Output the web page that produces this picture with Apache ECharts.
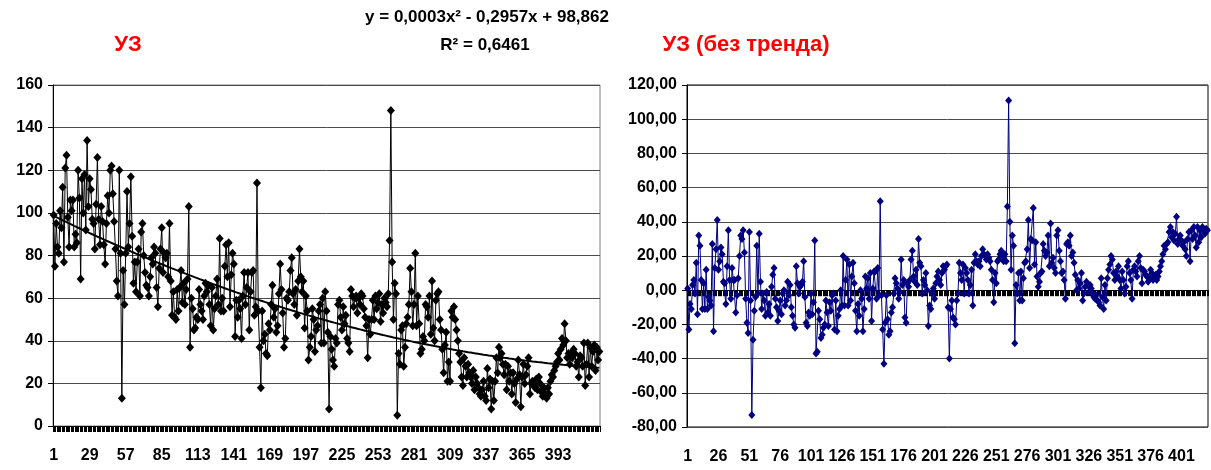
<!DOCTYPE html>
<html><head><meta charset="utf-8">
<script src="https://cdn.jsdelivr.net/npm/echarts@6/dist/echarts.min.js"></script>
<style>html,body{margin:0;padding:0;background:#fff}#c{width:1211px;height:470px}</style>
</head><body><div id="c"></div>
<script>
// ---- data ----
const rawValues = [
 99,75,95,84,81,101,93,112,77,121,
 127,98,84,106,101,106,84,90,86,120,
 107,69,116,100,118,92,134,103,116,111,
 97,95,83,104,126,97,85,103,96,85,
 76,95,108,100,120,122,109,96,83,68,
 61,120,81,13,73,57,81,110,84,95,
 117,89,67,77,63,77,83,61,91,95,
 80,72,66,65,61,70,79,76,84,81,
 65,56,74,83,93,72,81,79,81,70,
 95,68,52,63,51,50,64,54,65,73,
 58,67,57,64,69,103,37,60,55,45,
 46,51,50,64,57,54,50,61,67,63,
 66,57,47,65,45,55,61,69,57,88,
 54,60,54,75,85,70,86,56,71,81,
 76,42,59,51,59,55,41,61,72,57,
 65,72,45,63,72,73,52,56,114,54,
 37,18,54,40,43,34,33,48,45,57,
 66,51,55,44,47,62,76,64,53,37,
 41,60,59,63,73,79,62,57,64,52,
 68,83,70,63,68,46,61,54,31,37,
 42,55,50,35,45,47,54,57,39,60,
 39,63,54,44,8,42,36,31,28,41,
 39,57,59,51,45,56,48,52,41,39,
 35,64,61,56,60,61,53,60,57,62,
 61,55,51,47,32,50,43,50,59,50,
 61,55,58,62,49,57,53,60,58,56,
 62,87,148,77,50,67,62,5,34,29,
 45,47,28,37,48,51,57,74,63,47,
 57,81,47,61,48,34,36,42,40,57,
 56,51,61,43,68,46,40,59,62,63,
 50,45,36,25,38,44,21,30,21,54,
 51,56,50,45,40,34,30,23,19,32,
 28,23,29,25,23,20,26,17,23,20,
 18,15,14,17,21,14,12,27,18,22,
 8,21,12,21,32,25,37,32,34,29,
 24,29,17,28,21,25,15,25,20,11,
 22,31,24,9,23,29,20,24,28,32,
 15,20,21,19,18,22,17,23,20,16,
 14,18,15,13,18,15,21,24,23,26,
 28,30,34,31,36,41,38,48,40,32,
 34,29,34,32,36,34,28,30,23,33,
 32,28,39,19,29,39,23,37,28,35,
 38,26,37,31,35
];
const detrendedValues = [
 1,-23,-8,-11,3,6,-2,16,-14,32,
 26,6,-11,4,-11,12,-11,-4,-6,-9,
 27,-24,13,24,41,12,17,25,21,5,
 4,-8,14,35,6,-5,13,6,6,-13,
 -3,7,20,32,30,35,22,-5,-19,-25,
 34,-6,-73,-29,-12,-4,26,-2,33,5,
 -11,-2,-6,-15,-1,-13,-8,-15,2,9,
 13,-5,-10,-18,-12,-6,-14,-2,0,-9,
 -6,5,-3,3,-10,-15,-20,-22,14,4,
 -2,2,3,5,17,-4,-19,-21,-13,-15,
 -2,-14,-7,29,-37,-36,-12,-17,-28,-26,
 -22,-20,-6,-13,-21,-7,-12,-3,-2,-23,
 -6,-24,-15,-11,0,-9,20,-9,6,18,
 -9,15,-6,8,16,4,-12,-24,-8,-15,
 0,-5,-24,-11,8,1,7,-5,10,-18,
 1,11,11,-5,13,-3,52,-3,-23,-43,
 -19,-3,-17,-26,-24,-13,-10,-2,7,4,
 1,-5,-1,18,3,6,-16,-19,4,2,
 6,18,23,8,5,12,3,30,16,14,
 -2,6,3,10,0,-21,-9,-11,-2,1,
 -5,4,8,11,6,3,10,14,12,14,
 15,-10,-40,-11,-6,-16,-17,-20,-6,-2,
 16,10,6,15,-2,13,10,6,-2,3,
 12,-9,16,21,17,15,17,14,20,24,
 21,20,18,21,19,17,12,6,-7,10,
 4,17,18,21,23,20,17,21,17,49,
 111,40,12,32,26,-31,3,-2,10,-6,
 11,-6,7,16,17,24,41,13,30,29,
 48,15,28,8,2,5,10,11,27,23,
 20,22,32,14,39,16,19,13,10,32,
 35,23,17,10,11,6,-5,27,28,26,
 32,20,22,16,9,0,6,1,4,10,
 -6,-2,2,5,3,-1,3,1,-2,-4,
 -5,-3,-6,-7,-9,7,-4,-11,3,-6,
 7,12,15,20,18,10,6,11,8,14,
 6,1,11,6,-2,2,14,17,10,6,
 -5,12,14,11,8,17,20,13,4,12,
 11,9,8,5,8,12,10,6,7,9,
 6,8,11,14,17,21,26,24,27,28,
 34,37,31,34,29,33,43,27,30,32,
 29,26,28,24,20,30,34,17,35,30,
 37,32,25,37,28,35,31,37,35,33,
 36,35
];
// trend equation shown on the chart: y = a*x^2 + b*x + c
const trendCoefficients = [0.0003, -0.2957, 98.862];
const leftCategories = rawValues.map((_, i) => String(i + 1));
const rightCategories = detrendedValues.map((_, i) => String(i + 1));
const leftLabelStep = 28, leftLabelLast = 393;
const rightLabelStep = 25, rightLabelLast = 401;
const titles = {
  left: 'УЗ',
  right: 'УЗ (без тренда)',
  equation: 'y = 0,0003x² - 0,2957x + 98,862',
  r2: 'R² = 0,6461'
};

// ---- chart ----
const trendValues = leftCategories.map((c) => {
  const x = Number(c);
  return trendCoefficients[0] * x * x + trendCoefficients[1] * x + trendCoefficients[2];
});
const FONT = '"Liberation Sans", Arial, sans-serif';
const lbl = { fontFamily: FONT, fontWeight: 'bold', fontSize: 16, color: '#000' };
const chart = echarts.init(document.getElementById('c'), null, { renderer: 'canvas' });
chart.setOption({
  animation: false,
  backgroundColor: '#fff',
  title: [
    { text: titles.left, left: 128, top: 34, textAlign: 'center', padding: 0,
      textStyle: { fontFamily: FONT, fontWeight: 'bold', fontSize: 22, color: '#ff0000' } },
    { text: titles.equation, left: 487, top: 9, textAlign: 'center', padding: 0,
      textStyle: { fontFamily: FONT, fontWeight: 'bold', fontSize: 17, color: '#000' } },
    { text: titles.r2, left: 485, top: 37, textAlign: 'center', padding: 0,
      textStyle: { fontFamily: FONT, fontWeight: 'bold', fontSize: 17, color: '#000' } },
    { text: titles.right, left: 746, top: 34, textAlign: 'center', padding: 0,
      textStyle: { fontFamily: FONT, fontWeight: 'bold', fontSize: 22, color: '#ff0000' } }
  ],
  grid: [
    { left: 53, top: 85, width: 547, height: 341, show: true, borderColor: '#808080', borderWidth: 1, backgroundColor: 'transparent' },
    { left: 687, top: 85, width: 521, height: 342, show: true, borderColor: '#000', borderWidth: 1, backgroundColor: 'transparent' },
    { left: 687, top: 85, width: 521, height: 342, show: false }
  ],
  xAxis: [
    { type: 'category', gridIndex: 0, data: leftCategories, boundaryGap: true,
      axisLine: { lineStyle: { color: '#000', width: 1 } },
      axisTick: { show: true, interval: 0, length: 6, lineStyle: { color: '#000', width: 1 } },
      axisLabel: Object.assign({ margin: 22, hideOverlap: false, interval: (i) => (i % leftLabelStep === 0 && i + 1 <= leftLabelLast) }, lbl),
      splitLine: { show: false } },
    { type: 'category', gridIndex: 1, data: rightCategories, boundaryGap: true,
      axisLine: { onZero: true, lineStyle: { color: '#000', width: 1 } },
      axisTick: { show: true, interval: 0, length: 6, lineStyle: { color: '#000', width: 1 } },
      axisLabel: { show: false }, splitLine: { show: false } },
    { type: 'category', gridIndex: 2, data: rightCategories, boundaryGap: true,
      axisLine: { show: false, onZero: false }, axisTick: { show: false },
      axisLabel: Object.assign({ margin: 22, hideOverlap: false, interval: (i) => (i % rightLabelStep === 0 && i + 1 <= rightLabelLast) }, lbl),
      splitLine: { show: false } }
  ],
  yAxis: [
    { type: 'value', gridIndex: 0, min: 0, max: 160, interval: 20,
      axisLine: { show: true, lineStyle: { color: '#000' } },
      axisTick: { show: true, length: 5, lineStyle: { color: '#000' } },
      axisLabel: Object.assign({ margin: 10 }, lbl),
      splitLine: { show: true, lineStyle: { color: '#4a4a4a', width: 1 } } },
    { type: 'value', gridIndex: 1, min: -80, max: 120, interval: 20,
      axisLine: { show: true, lineStyle: { color: '#000' } },
      axisTick: { show: true, length: 5, lineStyle: { color: '#000' } },
      axisLabel: Object.assign({ margin: 10, formatter: (v) => v.toFixed(2).replace('.', ',') }, lbl),
      splitLine: { show: true, lineStyle: { color: '#4a4a4a', width: 1 } } },
    { type: 'value', gridIndex: 2, min: -80, max: 120, interval: 20, show: false }
  ],
  series: [
    { type: 'line', name: 'УЗ', xAxisIndex: 0, yAxisIndex: 0, data: rawValues,
      symbol: 'diamond', symbolSize: [8, 9], showAllSymbol: true,
      lineStyle: { color: '#000', width: 1 }, itemStyle: { color: '#000' } },
    { type: 'line', name: 'trend', xAxisIndex: 0, yAxisIndex: 0, data: trendValues,
      symbol: 'none', smooth: false, lineStyle: { color: '#000', width: 2 }, z: 3 },
    { type: 'line', name: 'УЗ (без тренда)', xAxisIndex: 1, yAxisIndex: 1, data: detrendedValues,
      symbol: 'diamond', symbolSize: [7, 8], showAllSymbol: true,
      lineStyle: { color: '#000080', width: 1 }, itemStyle: { color: '#000080' } }
  ]
});
</script>
</body></html>
